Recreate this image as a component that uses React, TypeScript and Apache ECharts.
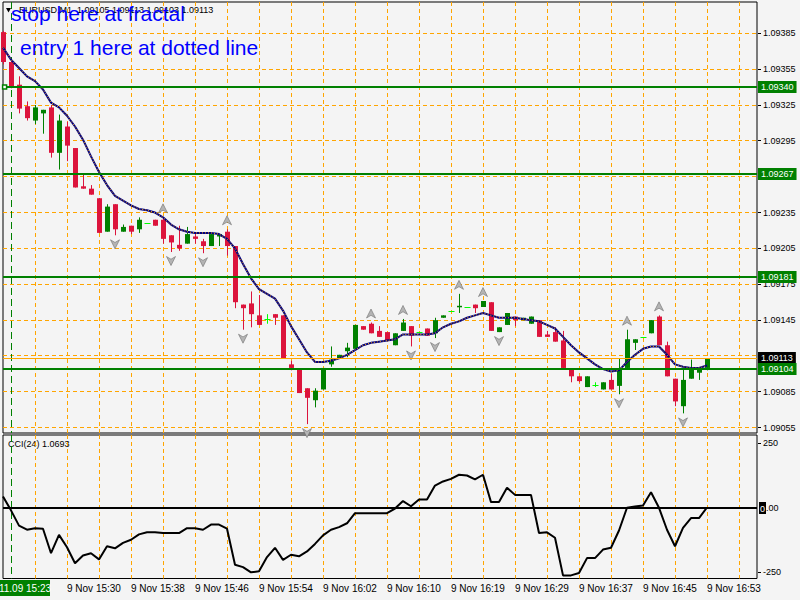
import React, { useEffect, useRef } from "react";
import * as echarts from "echarts";

const FONT = "Liberation Sans, Arial, sans-serif";

// ---- data (bar index k = 0..88, M1 EURUSD) ----
const opens = [
  1.09386, 1.09361, 1.09342, 1.09324, 1.09312, 1.09318, 1.09323, 1.09285, 1.09307, 1.09289,
  1.09257, 1.09255, 1.09247, 1.09219, 1.09242, 1.09219, 1.09224, 1.09221, 1.09226, 1.09229,
  1.09229, 1.09216, 1.09208, 1.09209, 1.09215, 1.09211, 1.09207, 1.09215, 1.09219, 1.09207,
  1.09158, 1.09159, 1.09149, 1.09146, 1.0915, 1.09149, 1.09108, 1.09104, 1.09088, 1.09078,
  1.09087, 1.09108, 1.09113, 1.09119, 1.09121, 1.0914, 1.09142, 1.09136, 1.09135, 1.09124,
  1.09136, 1.0914, 1.09135, 1.09138, 1.09134, 1.09147, 1.09153, 1.09156, 1.09156, 1.09158,
  1.09156, 1.0916, 1.09135, 1.09141, 1.09148, 1.09145, 1.09142, 1.09145, 1.09133, 1.09135,
  1.09128, 1.09104, 1.09098, 1.09089, 1.09091, 1.09087, 1.09095, 1.0909, 1.09105, 1.09126,
  1.09131, 1.09134, 1.09148, 1.09124, 1.09096, 1.09073, 1.09096, 1.09101, 1.09105,
];
const highs = [
  1.09387, 1.09362, 1.09349, 1.09328, 1.09325, 1.09321, 1.09325, 1.09317, 1.09311, 1.09289,
  1.09268, 1.09258, 1.09247, 1.09242, 1.09242, 1.09225, 1.09224, 1.09231, 1.09226, 1.09229,
  1.09231, 1.09216, 1.09224, 1.09223, 1.09217, 1.09213, 1.09217, 1.09217, 1.09221, 1.09207,
  1.09158, 1.09169, 1.09166, 1.0915, 1.0915, 1.09149, 1.09111, 1.09104, 1.09088, 1.09088,
  1.09105, 1.09123, 1.09116, 1.09126, 1.09141, 1.0914, 1.09143, 1.0914, 1.09135, 1.09134,
  1.09146, 1.0914, 1.09135, 1.09138, 1.09147, 1.09149, 1.09153, 1.09167, 1.09156, 1.09158,
  1.09161, 1.0916, 1.09139, 1.09151, 1.09148, 1.09147, 1.09148, 1.09145, 1.09136, 1.09139,
  1.09136, 1.09104, 1.09098, 1.09098, 1.09093, 1.09093, 1.091, 1.09113, 1.09137, 1.09129,
  1.09131, 1.09145, 1.09149, 1.09127, 1.09096, 1.09105, 1.09112, 1.09105, 1.09113,
];
const lows = [
  1.09359, 1.09339, 1.09318, 1.09312, 1.09309, 1.09301, 1.09281, 1.09271, 1.09278, 1.09256,
  1.09255, 1.0925, 1.09218, 1.09219, 1.09216, 1.09219, 1.09217, 1.09218, 1.09226, 1.09224,
  1.09209, 1.09202, 1.09203, 1.09209, 1.09209, 1.09201, 1.09207, 1.09207, 1.09199, 1.09155,
  1.09137, 1.09139, 1.09141, 1.09142, 1.09141, 1.09113, 1.09103, 1.09084, 1.09058, 1.09072,
  1.09087, 1.09106, 1.09113, 1.09114, 1.09121, 1.09137, 1.09134, 1.09131, 1.09128, 1.09124,
  1.09136, 1.09123, 1.09135, 1.09132, 1.0913, 1.09147, 1.09153, 1.09151, 1.09156, 1.09151,
  1.09156, 1.09136, 1.09135, 1.09141, 1.0914, 1.09145, 1.09142, 1.09131, 1.09131, 1.09127,
  1.09105, 1.09093, 1.09093, 1.09089, 1.09089, 1.09087, 1.09087, 1.09083, 1.09105, 1.0912,
  1.09131, 1.09134, 1.09124, 1.09098, 1.09073, 1.09067, 1.09096, 1.09095, 1.09103,
];
const closes = [
  1.09361, 1.0934, 1.09322, 1.09314, 1.09323, 1.09321, 1.09285, 1.09312, 1.09291, 1.09256,
  1.09255, 1.0925, 1.09218, 1.0924, 1.09221, 1.09223, 1.09219, 1.09229, 1.09226, 1.09224,
  1.09213, 1.0921, 1.09205, 1.09217, 1.09213, 1.09207, 1.09217, 1.09217, 1.09207, 1.0916,
  1.09155, 1.0915, 1.09141, 1.09146, 1.09147, 1.09113, 1.09105, 1.09084, 1.0908, 1.09086,
  1.09105, 1.09112, 1.09116, 1.09122, 1.09141, 1.09137, 1.09134, 1.09131, 1.09128, 1.09134,
  1.09143, 1.09132, 1.09135, 1.09132, 1.09145, 1.09149, 1.09153, 1.09157, 1.09156, 1.09155,
  1.09161, 1.09136, 1.09139, 1.09151, 1.09145, 1.09147, 1.09148, 1.09131, 1.09131, 1.09127,
  1.09105, 1.09098, 1.09094, 1.09098, 1.09091, 1.09093, 1.09087, 1.09104, 1.09129, 1.09129,
  1.09131, 1.09145, 1.09124, 1.09098, 1.09077, 1.09095, 1.09105, 1.09105, 1.09113,
];
const maValues = [
  1.09373, 1.09363, 1.09356, 1.09349, 1.09345, 1.09338, 1.09327, 1.09323, 1.09316, 1.09307,
  1.09296, 1.09282, 1.09269, 1.09258, 1.09249, 1.09245, 1.09241, 1.09238, 1.09237, 1.09235,
  1.09231, 1.09225, 1.09221, 1.09219, 1.09218, 1.09218, 1.09218, 1.09217, 1.09213, 1.09205,
  1.09192, 1.0918, 1.09171, 1.09167, 1.09163, 1.09153, 1.0914, 1.09129, 1.09118, 1.0911,
  1.0911, 1.09111, 1.09113, 1.09116, 1.0912, 1.09124, 1.09126, 1.09127, 1.09128, 1.09129,
  1.09133, 1.09133, 1.09133, 1.09133, 1.09134, 1.09139, 1.09142, 1.09144, 1.09147, 1.09149,
  1.09151, 1.09149, 1.09147, 1.09147, 1.09147, 1.09146, 1.09145, 1.09144, 1.09141, 1.09138,
  1.09131, 1.09124, 1.09118, 1.09113, 1.09108, 1.09104, 1.09102, 1.09103, 1.0911, 1.09116,
  1.09121, 1.09123, 1.09123, 1.09116, 1.09108, 1.09106, 1.09105, 1.09105, 1.09107,
];
const cciValues = [
  44, -10, -69, -85, -79, -81, -176, -105, -153, -215,
  -185, -176, -200, -149, -157, -136, -124, -103, -95, -95,
  -98, -98, -98, -79, -79, -85, -65, -65, -81, -221,
  -230, -250, -246, -191, -155, -202, -182, -188, -169, -140,
  -107, -85, -75, -60, -21, -21, -21, -21, -21, -3,
  26, 6, 32, 32, 86, 102, 112, 128, 125, 110,
  128, 22, 22, 78, 50, 50, 50, -98, -95, -116,
  -262, -262, -253, -195, -195, -162, -155, -88, 0, 5,
  9, 60, 0, -85, -149, -78, -40, -40, 1.0693,
];
const upFractals = [20, 28, 46, 50, 57, 60, 78, 82];
const downFractals = [14, 21, 25, 30, 38, 51, 54, 62, 77, 85];
const priceTicks = [
  1.09385, 1.09355, 1.09325, 1.09295, 1.09265, 1.09235, 1.09205, 1.09175, 1.09145, 1.09115,
  1.09085, 1.09055,
];
const gridBars = [4, 8, 12, 16, 20, 24, 28, 32, 36, 40, 44, 48, 52, 56, 60, 64, 68, 72, 76, 80, 84, 88, 92];
const levelLines = [1.0934, 1.09267, 1.09181, 1.09104];
const levelAnchor = { bar: 0.2, price: 1.0934 };
const bidPrice = 1.09113;
const cciLabels = [250, -250];
const cciZero = 0;
const timeLabels = [
  "9 Nov 15:30", "9 Nov 15:38", "9 Nov 15:46", "9 Nov 15:54", "9 Nov 16:02", "9 Nov 16:10",
  "9 Nov 16:19", "9 Nov 16:29", "9 Nov 16:37", "9 Nov 16:45", "9 Nov 16:53",
];
const markerBar = 1;
const markerLabel = "11.09 15:23";
const titleText = "EURUSD,M1  1.09105 1.09113 1.09103 1.09113";
const cciTitle = "CCI(24) 1.0693";

const ARROW = "path://M5,0L10,10L5,7L0,10Z";
const ORANGE = "#ffa500";
const GREEN = "#008000";

type HOpts = {
  stroke: string; width: number; dash?: number[]; tick?: boolean;
  label?: (v: number) => string; labelFill?: string; labelBg?: string; labelDx?: number; rich?: any;
};

// custom series drawing full-width horizontal lines at the given values (plus a right-side label)
function hLines(values: number[], axis: number, z: number, o: HOpts) {
  return {
    type: "custom", xAxisIndex: axis, yAxisIndex: axis, z, silent: true, clip: false,
    data: values.map((v) => [0, v]),
    encode: { x: 0, y: 1 },
    renderItem: (params: any, api: any) => {
      const cs = params.coordSys;
      const v = api.value(1);
      const raw = api.coord([0, v])[1];
      const y = o.width % 2 === 1 ? Math.round(raw - 0.5) + 0.5 : Math.round(raw);
      const right = cs.x + cs.width;
      const children: any[] = [
        { type: "line", shape: { x1: cs.x, y1: y, x2: right, y2: y }, style: { stroke: o.stroke, lineWidth: o.width, lineDash: o.dash || null } },
      ];
      if (o.tick) {
        children.push({ type: "line", shape: { x1: right + 1, y1: y, x2: right + 4, y2: y }, style: { stroke: "#000", lineWidth: 1 } });
      }
      if (o.label) {
        const style: any = {
          text: o.label(v), fill: o.labelFill || "#000", fontSize: 9, fontFamily: FONT,
          align: "left", verticalAlign: "middle",
        };
        if (o.labelBg) { style.backgroundColor = o.labelBg; style.padding = [2, 3, 1, 3]; }
        if (o.rich) style.rich = o.rich;
        children.push({ type: "text", x: right + (o.labelDx ?? 6), y: Math.round(raw), style });
      }
      return { type: "group", children };
    },
  };
}

// custom series drawing full-height vertical lines at the given bar positions
function vLines(bars: number[], axis: number, z: number, stroke: string, dash: number[]) {
  return {
    type: "custom", xAxisIndex: axis, yAxisIndex: axis, z, silent: true, clip: false,
    data: bars.map((k) => [k, 0]),
    encode: { x: 0, y: 1 },
    renderItem: (params: any, api: any) => {
      const cs = params.coordSys;
      const x = Math.round(api.coord([api.value(0), 0])[0]) + 0.5;
      return { type: "line", shape: { x1: x, y1: cs.y, x2: x, y2: cs.y + cs.height }, style: { stroke, lineWidth: 1, lineDash: dash } };
    },
  };
}

export default function App() {
  const ref = useRef<HTMLDivElement>(null);
  useEffect(() => {
    const chart = echarts.init(ref.current!, null, { renderer: "svg" });
    const candleData = opens.map((o, k) => [k, o, highs[k], lows[k], closes[k]]);
    const maData = maValues.map((v, k) => [k, v]);
    const cciData = cciValues.map((v, k) => [k, v]);
    const option: any = {
      animation: false,
      backgroundColor: "#f4f4f4",
      grid: [
        { left: 3, top: 2, width: 754, height: 431, show: true, borderColor: "#000", borderWidth: 1, backgroundColor: "transparent" },
        { left: 3, top: 435, width: 754, height: 143.5, show: true, borderColor: "#000", borderWidth: 1, backgroundColor: "transparent" },
      ],
      xAxis: [
        {
          type: "value", gridIndex: 0, min: 0, max: 94.25, interval: 4,
          axisLine: { show: false }, axisTick: { show: false }, axisLabel: { show: false }, splitLine: { show: false },
        },
        {
          type: "value", gridIndex: 1, min: 0, max: 94.25, interval: 4,
          axisLine: { show: false }, axisTick: { show: false }, splitLine: { show: false },
          axisLabel: {
            show: true, align: "left", margin: 5, fontSize: 10, color: "#000", fontFamily: FONT,
            formatter: (v: number) => (v % 8 === 0 && v >= 8 ? timeLabels[v / 8 - 1] || "" : ""),
          },
        },
      ],
      yAxis: [
        {
          type: "value", gridIndex: 0, position: "right", min: 1.0905057, max: 1.0941119,
          axisLine: { show: false }, axisTick: { show: false }, axisLabel: { show: false }, splitLine: { show: false },
        },
        {
          type: "value", gridIndex: 1, position: "right", min: -274, max: 282,
          axisLine: { show: false }, axisTick: { show: false }, axisLabel: { show: false }, splitLine: { show: false },
        },
      ],
      series: [
        vLines(gridBars, 0, 1, ORANGE, [4, 3]),
        vLines(gridBars, 1, 1, ORANGE, [4, 3]),
        hLines(priceTicks, 0, 1, { stroke: ORANGE, width: 1, dash: [4, 3], tick: true, label: (v) => v.toFixed(5) }),
        vLines([markerBar], 0, 2, GREEN, [7, 4]),
        vLines([markerBar], 1, 2, GREEN, [7, 4]),
        {
          type: "custom", xAxisIndex: 0, yAxisIndex: 0, z: 3, silent: true, clip: false,
          data: candleData,
          encode: { x: 0, y: [1, 2, 3, 4] },
          renderItem: (params: any, api: any) => {
            const k = api.value(0);
            const o = api.value(1), h = api.value(2), l = api.value(3), c = api.value(4);
            const po = api.coord([k, o]);
            const yc = api.coord([k, c])[1];
            const yh = api.coord([k, h])[1];
            const yl = api.coord([k, l])[1];
            const cx = Math.round(po[0]) + 0.5;
            const color = c > o ? GREEN : c < o ? "#dc143c" : "#00ff00";
            const children: any[] = [];
            if (yl - yh > 0.5) {
              children.push({ type: "line", shape: { x1: cx, y1: yh, x2: cx, y2: yl }, style: { stroke: color, lineWidth: 1 } });
            }
            if (c === o) {
              const yy = Math.round(po[1]) + 0.5;
              children.push({ type: "line", shape: { x1: cx - 3, y1: yy, x2: cx + 3, y2: yy }, style: { stroke: color, lineWidth: 1 } });
            } else {
              const top = Math.min(po[1], yc), bot = Math.max(po[1], yc);
              children.push({ type: "rect", shape: { x: cx - 2.5, y: top, width: 5, height: Math.max(1.5, bot - top) }, style: { fill: color } });
            }
            return { type: "group", children };
          },
        },
        {
          type: "line", xAxisIndex: 0, yAxisIndex: 0, data: maData, z: 4, silent: true,
          showSymbol: false, lineStyle: { color: "#000080", width: 2 },
        },
        {
          type: "line", xAxisIndex: 0, yAxisIndex: 0, data: maData, z: 5, silent: true,
          showSymbol: false, lineStyle: { color: ORANGE, width: 1, type: [1, 2] },
        },
        {
          type: "scatter", xAxisIndex: 0, yAxisIndex: 0, z: 6, silent: true,
          data: upFractals.map((k) => [k, highs[k]]),
          symbol: ARROW, symbolSize: [9, 9], symbolOffset: [0, -9],
          itemStyle: { color: "#b4b4b4", borderColor: "#6e6e6e", borderWidth: 0.6, opacity: 1 },
        },
        {
          type: "scatter", xAxisIndex: 0, yAxisIndex: 0, z: 6, silent: true,
          data: downFractals.map((k) => [k, lows[k]]),
          symbol: ARROW, symbolSize: [9, 9], symbolOffset: [0, 9], symbolRotate: 180,
          itemStyle: { color: "#b4b4b4", borderColor: "#6e6e6e", borderWidth: 0.6, opacity: 1 },
        },
        hLines([bidPrice], 0, 7, { stroke: ORANGE, width: 1, label: (v) => v.toFixed(5), labelFill: "#fff", labelBg: "#000", labelDx: 1 }),
        hLines(levelLines, 0, 8, { stroke: GREEN, width: 2, label: (v) => v.toFixed(5), labelFill: "#fff", labelBg: GREEN, labelDx: 1 }),
        {
          type: "scatter", xAxisIndex: 0, yAxisIndex: 0, z: 9, silent: true,
          data: [[levelAnchor.bar, levelAnchor.price]],
          symbol: "rect", symbolSize: 4,
          itemStyle: { color: "#ffffff", borderColor: GREEN, borderWidth: 1.5, opacity: 1 },
        },
        hLines([cciZero], 1, 3, {
          stroke: "#000", width: 2, labelDx: 2,
          label: () => "{a|0}{b|.00}",
          rich: {
            a: { backgroundColor: "#000", fill: "#fff", fontSize: 9, fontFamily: FONT, padding: [2, 1, 1, 1] },
            b: { fill: "#000", fontSize: 9, fontFamily: FONT },
          },
        }),
        hLines(cciLabels, 1, 3, { stroke: "rgba(0,0,0,0)", width: 1, tick: true, label: (v) => String(v) }),
        {
          type: "line", xAxisIndex: 1, yAxisIndex: 1, data: cciData, z: 4, silent: true,
          showSymbol: false, lineStyle: { color: "#000", width: 2 },
        },
      ],
      graphic: [
        { type: "polygon", shape: { points: [[6, 8], [11, 8], [8.5, 12.5]] }, style: { fill: "#000" }, silent: true },
        { type: "text", x: 19, y: 10, silent: true, style: { text: titleText, fill: "#000", fontSize: 9, fontFamily: FONT, align: "left", verticalAlign: "middle" } },
        { type: "text", x: 11, y: 13, silent: true, z: 100, style: { text: "stop here at fractal", fill: "#0000ff", fontSize: 21, fontFamily: FONT, align: "left", verticalAlign: "middle" } },
        { type: "text", x: 20, y: 47, silent: true, z: 100, style: { text: "entry 1 here at dotted line", fill: "#0000ff", fontSize: 21, fontFamily: FONT, align: "left", verticalAlign: "middle" } },
        { type: "text", x: 8, y: 444, silent: true, style: { text: cciTitle, fill: "#000", fontSize: 9, fontFamily: FONT, align: "left", verticalAlign: "middle" } },
        { type: "rect", shape: { x: 0, y: 580, width: 50, height: 16 }, style: { fill: GREEN }, silent: true },
        { type: "text", x: 25, y: 588, silent: true, style: { text: markerLabel, fill: "#fff", fontSize: 10, fontFamily: FONT, align: "center", verticalAlign: "middle" } },
      ],
    };
    chart.setOption(option);
    return () => chart.dispose();
  }, []);
  return (
    <div
      ref={ref}
      style={{ position: "fixed", left: 0, top: 0, width: 800, height: 600, background: "#f4f4f4" }}
    />
  );
}
